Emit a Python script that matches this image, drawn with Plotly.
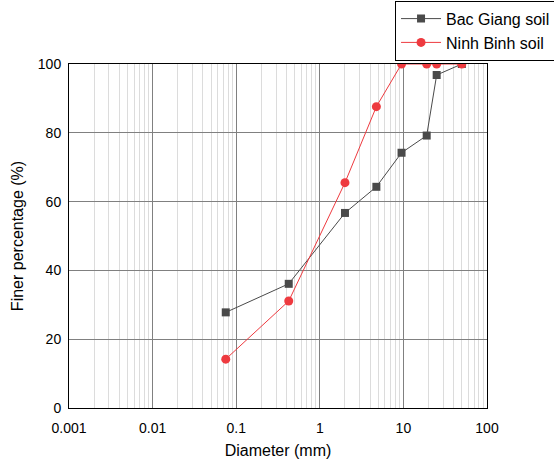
import plotly.graph_objects as go

diam = [0.075, 0.425, 2, 4.75, 9.5, 19, 25, 50]
bac_giang = [27.8, 36.1, 56.7, 64.3, 74.2, 79.2, 96.8, 100]
ninh_binh = [14.2, 31.1, 65.5, 87.6, 100, 100, 100, 100]

fig = go.Figure()
fig.add_trace(go.Scatter(x=diam, y=bac_giang, name="Bac Giang soil", mode="lines+markers",
                         line=dict(color="#4a4a4a", width=1),
                         marker=dict(symbol="square", size=8, color="#4a4a4a")))
fig.add_trace(go.Scatter(x=diam, y=ninh_binh, name="Ninh Binh soil", mode="lines+markers",
                         line=dict(color="#ee3a3f", width=1),
                         marker=dict(symbol="circle", size=9, color="#ee3a3f")))

fig.update_layout(
    width=554, height=464,
    margin=dict(l=69, r=67, t=64, b=56, autoexpand=False),
    paper_bgcolor="white", plot_bgcolor="white",
    font=dict(family="Liberation Sans, Arial", size=14, color="black"),
    legend=dict(x=0.78, y=1.184, xanchor="left", yanchor="top",
                bordercolor="black", borderwidth=1, bgcolor="white",
                font=dict(size=16), tracegroupgap=0, itemwidth=40),
    showlegend=True,
)
fig.update_xaxes(type="log", range=[-3, 2],
                 tickvals=[0.001, 0.01, 0.1, 1, 10, 100],
                 ticktext=["0.001", "0.01", "0.1", "1", "10", "100"],
                 showgrid=True, gridcolor="#808080", gridwidth=1,
                 minor=dict(showgrid=True, gridcolor="#dcdcdc", gridwidth=1,
                            tickvals=[m * 10**e for e in range(-3, 2) for m in range(2, 10)]),
                 showline=True, linecolor="black", linewidth=1, mirror=True,
                 ticks="", zeroline=False, ticklabelstandoff=7,
                 title=dict(text="Diameter (mm)", font=dict(size=16), standoff=10))
fig.update_yaxes(range=[0, 100], dtick=20,
                 showgrid=True, gridcolor="#808080", gridwidth=1,
                 showline=True, linecolor="black", linewidth=1, mirror=True,
                 ticks="", zeroline=False, ticklabelstandoff=4,
                 title=dict(text="Finer percentage (%)", font=dict(size=16), standoff=10))

fig.write_html("out.html")
